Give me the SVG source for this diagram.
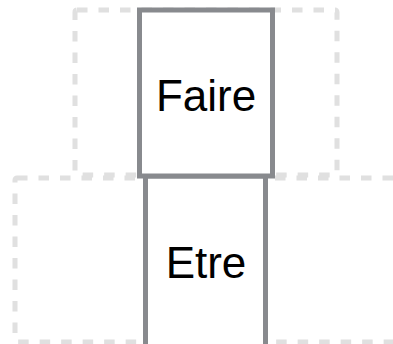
<svg xmlns="http://www.w3.org/2000/svg" width="393" height="344" viewBox="0 0 393 344">
<style>
.grp{fill:none;stroke:#e0e0e0;stroke-width:5;stroke-dasharray:10.5 11}
.box{fill:#ffffff;stroke:#888a8e;stroke-width:5}
.lbl{font-family:"Liberation Sans",Arial,sans-serif;font-size:44px;fill:#000000;text-anchor:middle}
</style>
<rect width="393" height="344" fill="#ffffff"/>
<g id="groups">
<rect class="grp" x="75" y="10" width="262" height="165" rx="2"/>
<rect class="grp" x="15" y="178" width="400" height="164" rx="2"/>
</g>
<g id="connectors"></g>
<g id="node-etre">
<rect class="box" x="145.5" y="176" width="120" height="180"/>
<text class="lbl" x="206" y="278">Etre</text>
</g>
<g id="node-faire">
<rect class="box" x="139.5" y="10" width="133" height="166"/>
<text class="lbl" x="206" y="111">Faire</text>
</g>
</svg>
